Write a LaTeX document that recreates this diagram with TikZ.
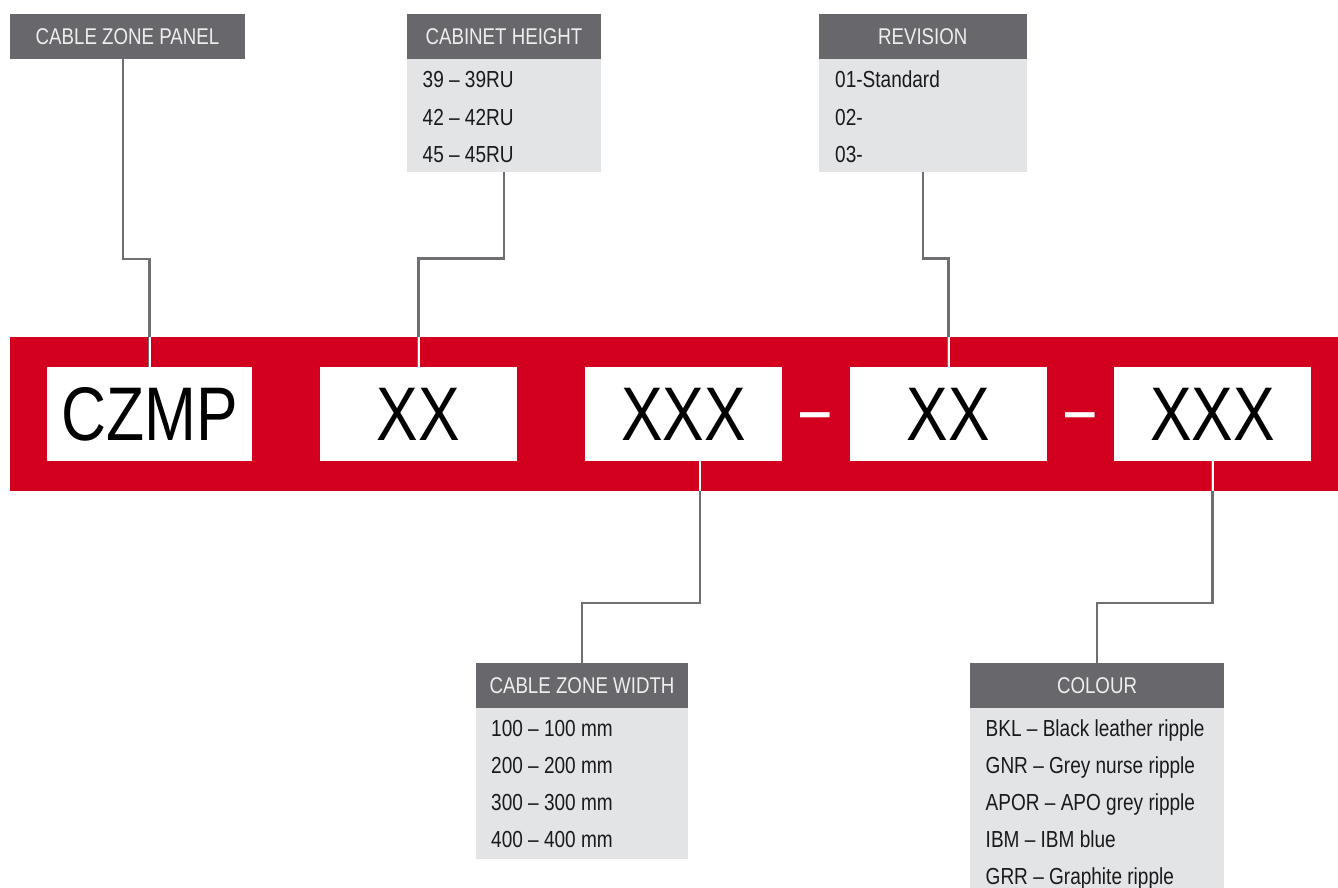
\documentclass[tikz,border=0pt]{standalone}
\usepackage{fontspec}
\setmainfont{Liberation Sans}[FakeStretch=0.82]
\newfontfamily\dashfont{Liberation Sans}[FakeStretch=0.7]
\definecolor{barred}{HTML}{D2001E}
\definecolor{hdrgray}{HTML}{68676C}
\definecolor{hdrtext}{HTML}{EEEEEE}
\definecolor{lstgray}{HTML}{E3E4E6}
\definecolor{rowtext}{HTML}{1A1A1A}
\definecolor{conngray}{HTML}{6E6E73}
\begin{document}
\begin{tikzpicture}[x=1pt,y=-1pt,
  hdr/.style={fill=hdrgray, text=hdrtext, inner sep=0, minimum height=45.5, font=\fontsize{22.8}{26}\selectfont},
  lst/.style={fill=lstgray, inner sep=0, anchor=north west},
  row/.style={anchor=base west, inner sep=0, text=rowtext, font=\fontsize{23.2}{27}\selectfont},
  codebox/.style={fill=white, inner sep=0, minimum width=197, minimum height=94, font=\fontsize{76}{80}\selectfont},
  dashtxt/.style={inner sep=0, text=white, font=\dashfont\fontsize{76}{80}\selectfont},
  conn/.style={draw=conngray, line width=2.2},
  wline/.style={draw=white, line width=2}]
\useasboundingbox (0,0) rectangle (1338,888);
\fill[white] (0,0) rectangle (1338,888);

% top headers and lists
\node[hdr, minimum width=235] (czphdr) at (127.5,36.3) {CABLE ZONE PANEL};
\node[hdr, minimum width=194] (cabhdr) at (504,36.3) {CABINET HEIGHT};
\node[lst, minimum width=194, minimum height=113] (cablist) at (407,58.5) {};
\node[row] (cab1) at (422.5,87.3) {39 – 39RU};
\node[row] (cab2) at (422.5,125) {42 – 42RU};
\node[row] (cab3) at (422.5,162.7) {45 – 45RU};
\node[hdr, minimum width=207.5] (revhdr) at (922.75,36.3) {REVISION};
\node[lst, minimum width=207.5, minimum height=113] (revlist) at (819,58.5) {};
\node[row] (rev1) at (835,87.3) {01-Standard};
\node[row] (rev2) at (835,125) {02-};
\node[row] (rev3) at (835,162.7) {03-};

% red bar with code boxes
\node[fill=barred, minimum width=1328, minimum height=154, inner sep=0] (bar) at (674,414) {};
\node[codebox, minimum width=205] (czmp) at (149.5,414) {CZMP};
\node[codebox] (xx1) at (418.5,414) {XX};
\node[codebox] (xxx1) at (683.5,414) {XXX};
\node[dashtxt] (dash1) at (815.7,423.8) {–};
\node[codebox] (xx2) at (948.5,414) {XX};
\node[dashtxt] (dash2) at (1080.3,423.8) {–};
\node[codebox] (xxx2) at (1212.5,414) {XXX};

% bottom headers and lists
\node[hdr, minimum width=212] (czwhdr) at (582,685.6) {CABLE ZONE WIDTH};
\node[lst, minimum width=212, minimum height=151] (czwlist) at (476,708) {};
\node[row] (czw1) at (491,736.7) {100 – 100 mm};
\node[row] (czw2) at (491,773.5) {200 – 200 mm};
\node[row] (czw3) at (491,810.3) {300 – 300 mm};
\node[row] (czw4) at (491,847.5) {400 – 400 mm};
\node[hdr, minimum width=254] (colhdr) at (1097,685.6) {COLOUR};
\node[lst, minimum width=254, minimum height=200] (collist) at (970,708) {};
\node[row] (col1) at (985.5,736.7) {BKL – Black leather ripple};
\node[row] (col2) at (985.5,773.5) {GNR – Grey nurse ripple};
\node[row] (col3) at (985.5,810.3) {APOR – APO grey ripple};
\node[row] (col4) at (985.5,847.5) {IBM – IBM blue};
\node[row] (col5) at (985.5,884.5) {GRR – Graphite ripple};

% connectors
\draw[conn] ([xshift=-4.5pt]czphdr.south) -- ++(0,200) -| (czmp.north);
\draw[conn] (cablist.south) -- ++(0,86.5) -| (xx1.north);
\draw[conn] (revlist.south) -- ++(0,86.5) -| (xx2.north);
\draw[conn] ([xshift=16.5pt]xxx1.south) -- ++(0,142) -| (czwhdr.north);
\draw[conn] (xxx2.south) -- ++(0,142) -| (colhdr.north);

% white parts inside the red bar
\draw[wline] (czmp.north) -- (czmp.north |- bar.north);
\draw[wline] (xx1.north) -- (xx1.north |- bar.north);
\draw[wline] (xx2.north) -- (xx2.north |- bar.north);
\draw[wline] ([xshift=16.5pt]xxx1.south) -- ([xshift=16.5pt]xxx1.south |- bar.south);
\draw[wline] (xxx2.south) -- (xxx2.south |- bar.south);
\end{tikzpicture}
\end{document}
